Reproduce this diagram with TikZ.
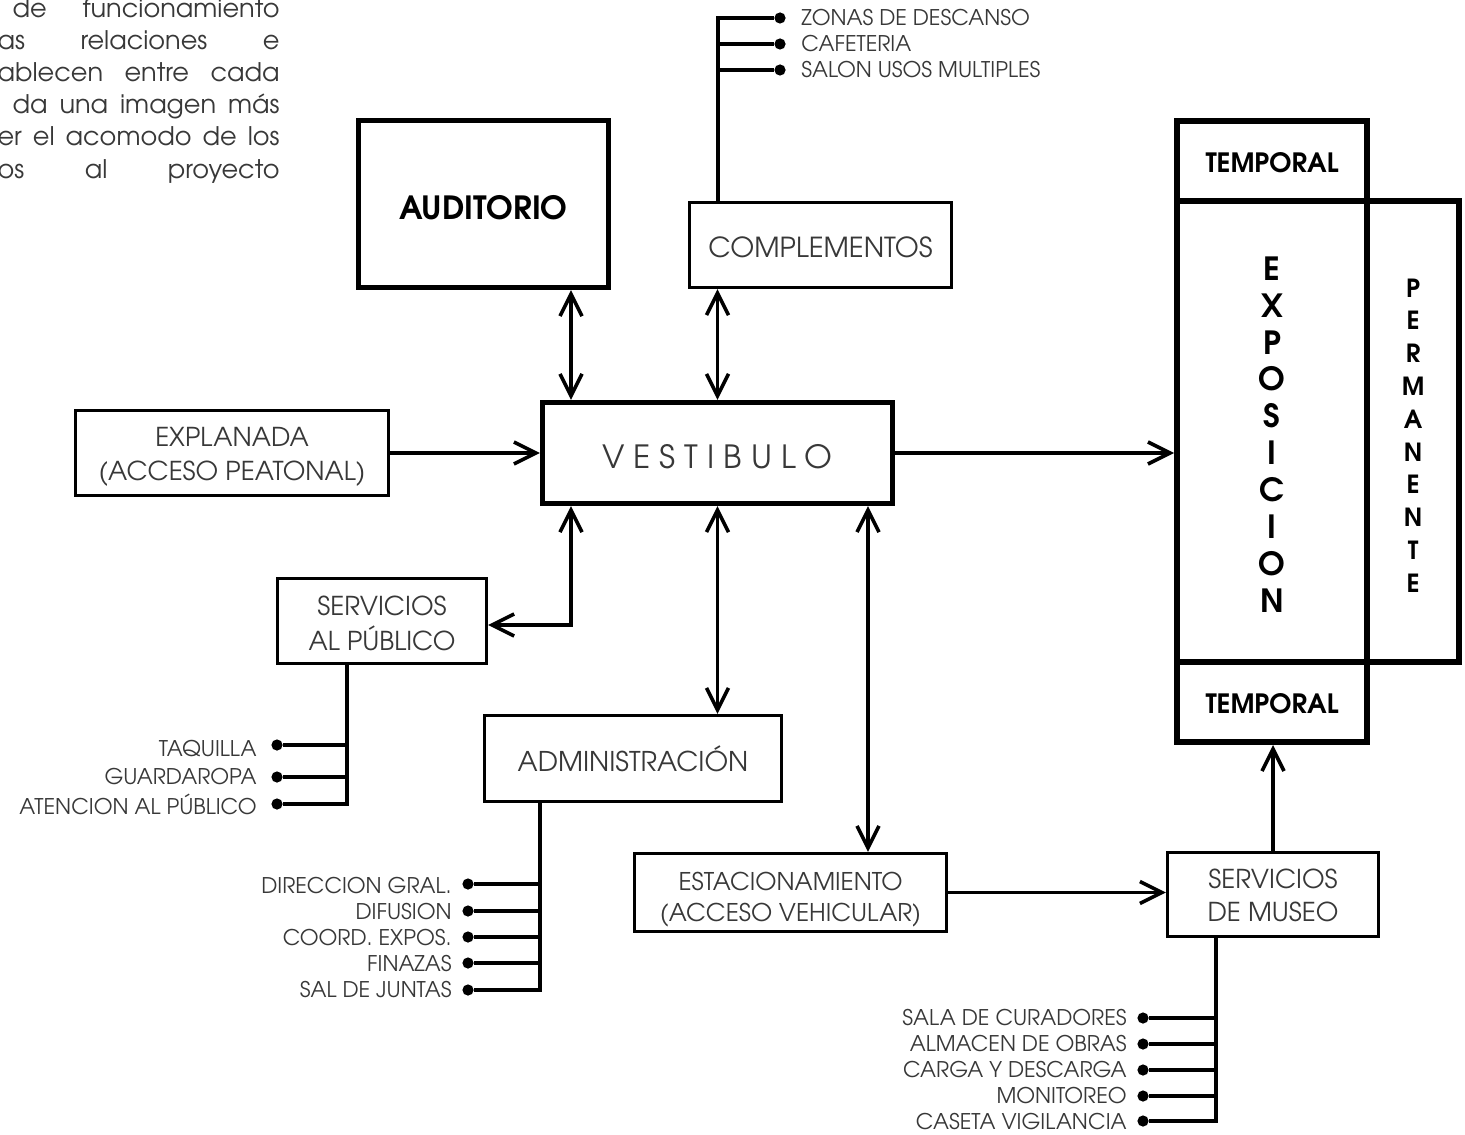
\documentclass[tikz,border=0pt]{standalone}
\usepackage{fontspec}
\setmainfont{TeX Gyre Adventor}
\usetikzlibrary{arrows.meta}
\definecolor{txt}{HTML}{383838}
\newcommand{\lowr}[2]{\raisebox{-#1}[\height][\depth]{#2}}
\newcommand{\twol}[2]{\begin{tabular}{@{}c@{}}#1\\#2\end{tabular}}
\begin{document}
\begin{tikzpicture}[x=0.5pt,y=-0.5pt,
  box/.style={draw, line width=1.6pt, inner sep=0pt, align=center, text=txt,
    font=\fontsize{13}{17}\selectfont},
  heavy/.style={draw, line width=2.6pt, inner sep=0pt, align=center,
    font=\bfseries\fontsize{16}{19}\selectfont},
  expobox/.style={draw, line width=3pt, inner sep=0pt, align=center,
    font=\bfseries\fontsize{13.3}{15}\selectfont},
  link/.style={line width=1.8pt},
  tip/.tip={Straight Barb[length=11pt,width=11pt]},
  arr/.style={link, -tip},
  darr/.style={link, tip-tip},
  dot/.style={circle, fill, inner sep=0pt, minimum size=5.6pt},
  lbl/.style={text=txt, font=\fontsize{10.8}{12}\selectfont, inner sep=0pt},
  para/.style={text=txt, font=\fontsize{12.8}{14}\selectfont, inner sep=0pt, anchor=base east}
]
\useasboundingbox (0,0) rectangle (1465,1134);

% paragraph (cut at the page edge, as in the source)
\begin{scope}
\clip (0,0) rectangle (1465,1134);
\node[para] (p1) at (280,18)  {\makebox[133.5pt][s]{de funcionamiento}};
\node[para] (p2) at (280,49.5){\makebox[141pt][s]{as relaciones e}};
\node[para] (p3) at (280,82)  {\makebox[141pt][s]{ablecen entre cada}};
\node[para] (p4) at (280,114) {\makebox[133.5pt][s]{da una imagen más}};
\node[para] (p5) at (280,146) {\makebox[141pt][s]{er el acomodo de los}};
\node[para] (p6) at (280,179) {\makebox[141pt][s]{os al proyecto}};
\end{scope}

% main boxes
\node[heavy, minimum width=125pt, minimum height=83.5pt] (aud) at (483.5,204) {\lowr{2pt}{AUDITORIO}};
\node[box, minimum width=131pt, minimum height=42.5pt, font=\fontsize{13.8}{17}\selectfont] (comp) at (820.5,245) {\lowr{1pt}{COMPLEMENTOS}};
\node[heavy, minimum width=175pt, minimum height=50.5pt, font=\fontsize{16}{19}\selectfont, text=txt] (vest) at (717.5,453)
  {\lowr{2pt}{V\kern4.5pt E\kern4.5pt S\kern4.5pt T\kern4.5pt I\kern4.5pt B\kern4.5pt U\kern4.5pt L\kern4.5pt O}};
\node[box, minimum width=156.5pt, minimum height=42.5pt] (expl) at (232,453) {\lowr{2pt}{\twol{EXPLANADA}{(ACCESO PEATONAL)}}};
\node[box, minimum width=104.5pt, minimum height=42.5pt] (serv) at (382,621) {\lowr{2.5pt}{\twol{SERVICIOS}{AL PÚBLICO}}};
\node[box, minimum width=148.5pt, minimum height=43pt, font=\fontsize{13.6}{17}\selectfont] (admin) at (633,758.5) {ADMINISTRACIÓN};
\node[box, minimum width=156pt, minimum height=39pt, font=\fontsize{12.2}{15.5}\selectfont] (estac) at (790.5,892.5) {\lowr{3.5pt}{\twol{ESTACIONAMIENTO}{(ACCESO VEHICULAR)}}};
\node[box, minimum width=105.5pt, minimum height=42pt, font=\fontsize{13}{16.5}\selectfont] (museo) at (1273,894.5) {\lowr{2pt}{\twol{SERVICIOS}{DE MUSEO}}};

% exposition block
\node[expobox, minimum width=95pt, minimum height=40pt] (ttop) at (1272,161) {\lowr{1pt}{TEMPORAL}};
\node[expobox, minimum width=95pt, minimum height=230.5pt] (expo) at (1272,431.5) {};
\node[expobox, minimum width=46pt, minimum height=230.5pt] (perm) at (1413,431.5) {};
\node[expobox, minimum width=95pt, minimum height=40pt] (tbot) at (1272,702) {\lowr{1pt}{TEMPORAL}};
\node[align=center, inner sep=0pt, font=\bfseries\fontsize{16}{18.45}\selectfont] (expotxt) at ([yshift=-1.5pt]expo.center)
  {E\\X\\P\\O\\S\\I\\C\\I\\O\\N};
\node[align=center, inner sep=0pt, font=\bfseries\fontsize{12.5}{16.4}\selectfont] (permtxt) at ([yshift=-2pt]perm.center)
  {P\\E\\R\\M\\A\\N\\E\\N\\T\\E};

% connectors
\coordinate (xa) at (571,0);
\coordinate (xc) at (868,0);
\draw[darr] (xa |- aud.south) -- (xa |- vest.north);
\draw[darr] (vest.north) -- (vest.north |- comp.south);
\draw[arr] (expl.east) -- (vest.west);
\draw[arr] (vest.east) -- (vest.east -| expo.west);
\draw[darr] (xa |- vest.south) |- ([yshift=-2pt]serv.east);
\draw[darr] (vest.south) -- (vest.south |- admin.north);
\draw[darr] (xc |- vest.south) -- (xc |- estac.north);
\draw[arr] (estac.east) -- (estac.east -| museo.west);
\draw[arr] (museo.north) -- (museo.north |- tbot.south);

% complementos tree
\coordinate (ct) at (718,18);
\node[dot] (z1) at (780,18) {};
\node[dot] (z2) at (780,44) {};
\node[dot] (z3) at (780,70) {};
\node[lbl, anchor=west] (lz1) at (801,18) {ZONAS DE DESCANSO};
\node[lbl, anchor=west] (lz2) at (801,44) {CAFETERIA};
\node[lbl, anchor=west] (lz3) at (801,70) {SALON USOS MULTIPLES};
\draw[link] (ct |- comp.north) -- (ct) -- (z1);
\draw[link] (ct |- z2) -- (z2);
\draw[link] (ct |- z3) -- (z3);

% servicios al publico tree
\coordinate (st) at (347,0);
\node[dot] (t1) at (277,745) {};
\node[dot] (t2) at (277,777) {};
\node[dot] (t3) at (277,804) {};
\node[lbl, anchor=east] (lt1) at (257,749) {TAQUILLA};
\node[lbl, anchor=east] (lt2) at (257,777) {GUARDAROPA};
\node[lbl, anchor=east] (lt3) at (257,804) {ATENCION AL PÚBLICO};
\draw[link] (st |- serv.south) -- (st |- t3) -- (t3);
\draw[link] (st |- t1) -- (t1);
\draw[link] (st |- t2) -- (t2);

% administracion tree
\coordinate (at) at (540,0);
\node[dot] (a1) at (468,884) {};
\node[dot] (a2) at (468,911) {};
\node[dot] (a3) at (468,937) {};
\node[dot] (a4) at (468,963) {};
\node[dot] (a5) at (468,990) {};
\node[lbl, anchor=east] (la1) at (452,886) {DIRECCION GRAL.};
\node[lbl, anchor=east] (la2) at (452,912) {DIFUSION};
\node[lbl, anchor=east] (la3) at (452,938) {COORD. EXPOS.};
\node[lbl, anchor=east] (la4) at (452,964) {FINAZAS};
\node[lbl, anchor=east] (la5) at (452,990) {SAL DE JUNTAS};
\draw[link] (at |- admin.south) -- (at |- a5) -- (a5);
\draw[link] (at |- a1) -- (a1);
\draw[link] (at |- a2) -- (a2);
\draw[link] (at |- a3) -- (a3);
\draw[link] (at |- a4) -- (a4);

% servicios de museo tree
\coordinate (mt) at (1216,0);
\node[dot] (m1) at (1143,1018) {};
\node[dot] (m2) at (1143,1044) {};
\node[dot] (m3) at (1143,1070) {};
\node[dot] (m4) at (1143,1096) {};
\node[dot] (m5) at (1143,1121) {};
\node[lbl, anchor=east] (lm1) at (1127,1018) {SALA DE CURADORES};
\node[lbl, anchor=east] (lm2) at (1127,1044) {ALMACEN DE OBRAS};
\node[lbl, anchor=east] (lm3) at (1127,1070) {CARGA Y DESCARGA};
\node[lbl, anchor=east] (lm4) at (1127,1096) {MONITOREO};
\node[lbl, anchor=east] (lm5) at (1127,1122) {CASETA VIGILANCIA};
\draw[link] (mt |- museo.south) -- (mt |- m5) -- (m5);
\draw[link] (mt |- m1) -- (m1);
\draw[link] (mt |- m2) -- (m2);
\draw[link] (mt |- m3) -- (m3);
\draw[link] (mt |- m4) -- (m4);
\end{tikzpicture}
\end{document}
